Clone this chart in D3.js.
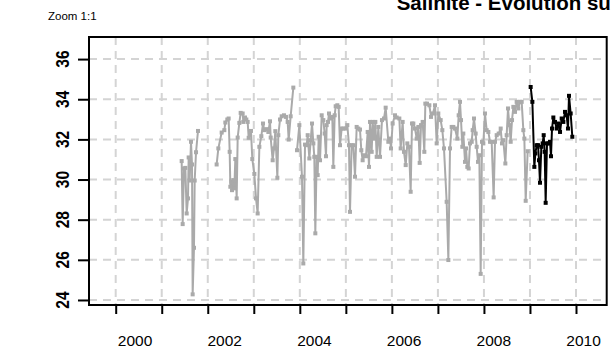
<!DOCTYPE html>
<html>
<head>
<meta charset="utf-8">
<script src="https://cdn.jsdelivr.net/npm/d3@7"></script>
<style>
  html, body { margin: 0; padding: 0; background: #fff; overflow: hidden; }
  svg { display: block; }
</style>
</head>
<body>
<svg id="chart" width="611" height="354"></svg>
<script>
// ---- texts and axis values ----
const titleText = "Salinité - Evolution sur";
const zoomText = "Zoom 1:1";
const yTicks = [24, 26, 28, 30, 32, 34, 36];
const yearTicks = [2000, 2001, 2002, 2003, 2004, 2005, 2006, 2007, 2008, 2009, 2010];
const yearLabels = [2000, 2002, 2004, 2006, 2008, 2010];

// ---- past years (grey); null marks a break in the record ----
const grayYears = [
  2001.433, 2001.455, 2001.484, 2001.513, 2001.542, 2001.571, 2001.585, 2001.607,
  2001.636, 2001.658, 2001.672, 2001.701, 2001.716, 2001.745, 2001.788,
  2002.000,
  2002.193, 2002.230, 2002.302, 2002.360, 2002.382, 2002.425, 2002.454, 2002.476,
  2002.491, 2002.512, 2002.527, 2002.556, 2002.577, 2002.599, 2002.628, 2002.650,
  2002.686, 2002.715, 2002.758, 2002.773, 2002.809, 2002.838, 2002.867, 2002.889,
  2002.939, 2002.968, 2003.012, 2003.048, 2003.084, 2003.121, 2003.164, 2003.200,
  2003.229, 2003.273, 2003.316, 2003.352, 2003.367, 2003.410, 2003.439, 2003.468,
  2003.512, 2003.533, 2003.570, 2003.606, 2003.656, 2003.700, 2003.736, 2003.758,
  2003.801, 2003.859,
  2003.900,
  2003.939, 2003.990, 2004.047, 2004.076, 2004.113, 2004.149, 2004.171, 2004.207,
  2004.236, 2004.265, 2004.294, 2004.315, 2004.337, 2004.366, 2004.388, 2004.410,
  2004.439, 2004.475, 2004.511, 2004.540, 2004.569, 2004.583, 2004.612, 2004.634,
  2004.670, 2004.706, 2004.728, 2004.757, 2004.779, 2004.815, 2004.844, 2004.873,
  2004.909, 2004.945, 2005.003, 2005.032, 2005.068, 2005.090, 2005.126, 2005.163,
  2005.199, 2005.235, 2005.271, 2005.307, 2005.336, 2005.365, 2005.394, 2005.438,
  2005.474, 2005.503, 2005.525, 2005.561, 2005.583, 2005.612, 2005.641, 2005.670,
  2005.706, 2005.742, 2005.785, 2005.829, 2005.865, 2005.923, 2005.959, 2005.981,
  2006.017, 2006.068, 2006.104, 2006.162, 2006.191, 2006.234, 2006.263, 2006.300,
  2006.336, 2006.372, 2006.408, 2006.437, 2006.466, 2006.502, 2006.539, 2006.575,
  2006.604, 2006.633, 2006.669, 2006.705, 2006.727, 2006.763, 2006.814, 2006.850,
  2006.893, 2006.937, 2006.973, 2007.009, 2007.060, 2007.096, 2007.132, 2007.190,
  2007.227, 2007.263, 2007.299, 2007.335, 2007.371, 2007.422, 2007.451, 2007.480,
  2007.502, 2007.531, 2007.552, 2007.589, 2007.610, 2007.639, 2007.668, 2007.697,
  2007.734, 2007.755, 2007.784, 2007.820, 2007.842, 2007.871, 2007.900, 2007.929,
  2007.958, 2007.987, 2008.023, 2008.059, 2008.096, 2008.132, 2008.168, 2008.211,
  2008.240, 2008.277, 2008.320, 2008.364, 2008.392, 2008.421, 2008.465, 2008.494,
  2008.523, 2008.552, 2008.581, 2008.610, 2008.639, 2008.675, 2008.711, 2008.747,
  2008.784, 2008.820, 2008.856, 2008.878, 2008.907, 2008.950
];
const grayValues = [
  30.92, 27.78, 30.55, 30.58, 28.31, 29.06, 31.10, 29.95,
  31.88, 30.75, 24.28, 26.60, 29.95, 31.36, 32.42,
  null,
  30.75, 31.55, 32.34, 32.46, 32.84, 32.99, 33.04, 31.38,
  29.64, 29.89, 29.47, 29.97, 29.56, 31.02, 29.06, 32.09,
  32.82, 33.32, 33.29, 32.87, 33.09, 32.99, 32.87, 32.08,
  32.42, 31.02, 30.28, 29.06, 28.31, 31.63, 32.16, 32.79,
  32.46, 32.51, 32.37, 32.90, 32.09, 30.96, 31.55, 32.41,
  30.09, 32.21, 32.99, 33.15, 33.20, 33.12, 32.87, 31.99,
  33.15, 34.58,
  null,
  31.46, 32.71, 30.14, 25.82, 31.74, 31.71, 32.21, 31.05,
  31.96, 32.79, 31.80, 31.13, 27.32, 31.13, 30.22, 32.13,
  30.96, 33.20, 32.96, 32.29, 31.16, 32.71, 32.87, 33.29,
  33.04, 33.12, 30.63, 33.20, 33.65, 33.70, 33.62, 31.71,
  32.54, 32.54, 32.54, 32.71, 31.71, 28.39, 31.71, 31.71,
  30.14, 32.62, 32.54, 32.49, 31.46, 30.96, 31.21, 31.16,
  32.37, 30.63, 32.87, 31.38, 32.87, 32.04, 32.87, 31.13,
  32.62, 31.13, 32.96, 33.04, 33.58, 31.88, 32.04, 31.55,
  32.79, 33.20, 33.09, 33.04, 31.55, 32.87, 31.38, 30.72,
  31.80, 31.63, 29.39, 32.79, 32.79, 32.54, 32.04, 32.62,
  30.83, 32.71, 32.87, 31.38, 33.78, 33.78, 33.70, 33.12,
  33.29, 33.70, 31.80, 33.29, 32.96, 32.46, 31.55, 28.89,
  25.99, 31.55, 32.62, 32.62, 32.54, 32.04, 33.20, 33.87,
  32.96, 31.63, 32.29, 30.88, 31.55, 30.63, 30.55, 31.80,
  31.88, 32.46, 33.04, 32.29, 31.63, 30.88, 31.21, 25.30,
  31.88, 31.80, 33.29, 32.46, 32.37, 31.88, 31.88, 29.11,
  31.88, 32.21, 32.29, 32.54, 31.80, 31.96, 30.80, 32.21,
  33.54, 32.71, 31.88, 32.96, 33.62, 33.37, 33.87, 33.54,
  33.87, 33.87, 32.46, 32.04, 28.94, 31.41
];

// ---- current year (black) ----
const blackYears = [
  2009.015, 2009.052, 2009.095, 2009.117, 2009.146, 2009.175, 2009.196, 2009.218,
  2009.247, 2009.276, 2009.298, 2009.319, 2009.341, 2009.370, 2009.399, 2009.435,
  2009.457, 2009.479, 2009.508, 2009.544, 2009.580, 2009.616, 2009.653, 2009.689,
  2009.725, 2009.761, 2009.797, 2009.826, 2009.848, 2009.884, 2009.920
];
const blackValues = [
  34.61, 33.87, 30.63, 31.30, 31.71, 31.71, 30.96, 29.84,
  31.63, 31.80, 32.21, 31.38, 28.84, 31.80, 31.80, 31.88,
  31.16, 32.54, 33.09, 32.87, 32.54, 32.79, 32.37, 33.04,
  32.87, 33.37, 33.20, 32.54, 34.17, 33.29, 32.13
];

// ---- layout ----
const FONT = '"Liberation Sans", Arial, sans-serif';
const box = { left: 89, right: 606.7, top: 37, bottom: 305 };
const svg = d3.select("#chart");

const x = d3.scaleLinear().domain([1999.42, 2010.667]).range([box.left, box.right]);
const xLabel = d3.scaleLinear().domain([2000, 2010]).range([134.5, 583]);
const y = d3.scaleLinear().domain([23.75, 37.1]).range([box.bottom, box.top]);

// clip for the series
svg.append("defs").append("clipPath").attr("id", "plotClip")
  .append("rect")
  .attr("x", box.left).attr("y", box.top)
  .attr("width", box.right - box.left).attr("height", box.bottom - box.top);

// dashed grid
const grid = svg.append("g").attr("stroke", "#d4d4d4").attr("stroke-width", 2)
  .attr("stroke-dasharray", "8,6").attr("fill", "none");
grid.selectAll("line.h").data(yTicks).join("line").attr("class", "h")
  .attr("x1", box.left).attr("x2", box.right)
  .attr("y1", d => y(d)).attr("y2", d => y(d));
grid.selectAll("line.v").data(yearTicks).join("line").attr("class", "v")
  .attr("x1", d => x(d)).attr("x2", d => x(d))
  .attr("y1", box.top).attr("y2", box.bottom);

// series
function drawSeries(years, values, color) {
  const pts = years.map((t, i) => ({ t, v: values[i] }));
  const g = svg.append("g").attr("clip-path", "url(#plotClip)");
  const line = d3.line().defined(d => d.v != null).x(d => x(d.t)).y(d => y(d.v));
  g.append("path").datum(pts).attr("d", line)
    .attr("fill", "none").attr("stroke", color).attr("stroke-width", 2)
    .attr("stroke-linejoin", "round");
  g.selectAll("rect").data(pts.filter(d => d.v != null)).join("rect")
    .attr("x", d => x(d.t) - 2).attr("y", d => y(d.v) - 2)
    .attr("width", 4).attr("height", 4).attr("fill", color);
}
drawSeries(grayYears, grayValues, "#aaaaaa");
drawSeries(blackYears, blackValues, "#000000");

// frame
svg.append("rect")
  .attr("x", box.left).attr("y", box.top)
  .attr("width", box.right - box.left).attr("height", box.bottom - box.top)
  .attr("fill", "none").attr("stroke", "#000").attr("stroke-width", 2);

// y axis
const yAxis = svg.append("g").attr("transform", `translate(${box.left},0)`)
  .call(d3.axisLeft(y).tickValues(yTicks).tickSize(11).tickFormat(""));
yAxis.select(".domain").remove();
yAxis.selectAll(".tick line").attr("stroke", "#000").attr("stroke-width", 2);
svg.append("g").selectAll("text").data(yTicks).join("text")
  .attr("transform", d => `translate(69,${y(d)}) rotate(-90) scale(0.82,1)`)
  .attr("text-anchor", "middle")
  .attr("font-family", FONT).attr("font-weight", "bold").attr("font-size", 19)
  .attr("fill", "#000")
  .text(d => d);

// x axis: yearly ticks
const xAxis = svg.append("g").attr("transform", `translate(0,${box.bottom})`)
  .call(d3.axisBottom(x).tickValues(yearTicks).tickSize(9).tickFormat(""));
xAxis.select(".domain").remove();
xAxis.selectAll(".tick line").attr("stroke", "#000").attr("stroke-width", 2);

// x axis: year labels
const xLab = svg.append("g").attr("transform", "translate(0,346)")
  .call(d3.axisBottom(xLabel).tickValues(yearLabels).tickSize(0).tickPadding(0).tickFormat(d3.format("d")));
xLab.select(".domain").remove();
xLab.selectAll(".tick text")
  .attr("dy", 0).attr("y", 0)
  .attr("font-family", FONT).attr("font-size", 15.5).attr("fill", "#000");

// title (runs past the top edge) and zoom note
svg.append("text").attr("x", 396.7).attr("y", 9.5)
  .attr("font-family", FONT).attr("font-weight", "bold").attr("font-size", 20.5)
  .attr("fill", "#000").text(titleText);
svg.append("text").attr("x", 48).attr("y", 20)
  .attr("font-family", FONT).attr("font-size", 11.5)
  .attr("fill", "#000").text(zoomText);
</script>
</body>
</html>
